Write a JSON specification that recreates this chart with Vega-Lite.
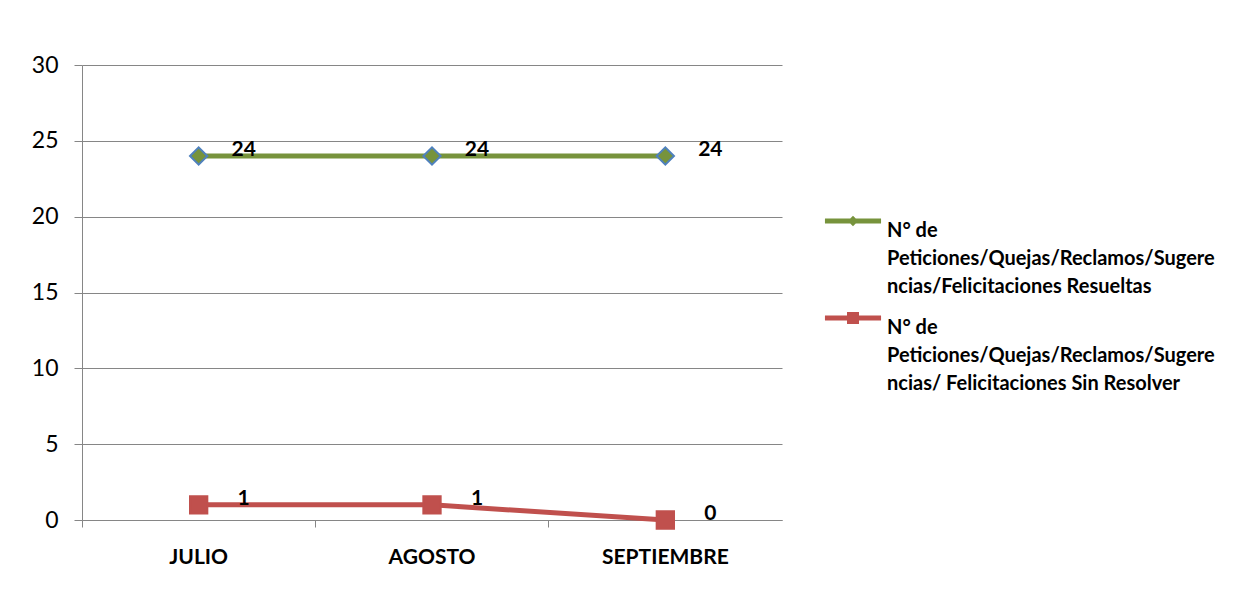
{
  "$schema": "https://vega.github.io/schema/vega-lite/v6.json",
  "width": 700,
  "height": 455,
  "autosize": {"type": "none"},
  "padding": {"left": 82, "top": 65, "right": 456, "bottom": 71},
  "background": "white",
  "config": {"view": {"stroke": null}, "font": "Lato"},
  "data": {
    "values": [
      {"mes": "JULIO", "serie": "N° de Peticiones/Quejas/Reclamos/Sugerencias/Felicitaciones Resueltas", "valor": 24},
      {"mes": "AGOSTO", "serie": "N° de Peticiones/Quejas/Reclamos/Sugerencias/Felicitaciones Resueltas", "valor": 24},
      {"mes": "SEPTIEMBRE", "serie": "N° de Peticiones/Quejas/Reclamos/Sugerencias/Felicitaciones Resueltas", "valor": 24},
      {"mes": "JULIO", "serie": "N° de Peticiones/Quejas/Reclamos/Sugerencias/ Felicitaciones  Sin Resolver", "valor": 1},
      {"mes": "AGOSTO", "serie": "N° de Peticiones/Quejas/Reclamos/Sugerencias/ Felicitaciones  Sin Resolver", "valor": 1},
      {"mes": "SEPTIEMBRE", "serie": "N° de Peticiones/Quejas/Reclamos/Sugerencias/ Felicitaciones  Sin Resolver", "valor": 0}
    ]
  },
  "encoding": {
    "x": {
      "field": "mes", "type": "nominal", "sort": ["JULIO", "AGOSTO", "SEPTIEMBRE"],
      "scale": {"type": "band", "paddingInner": 0, "paddingOuter": 0},
      "axis": {
        "title": null, "bandPosition": 0, "labelAngle": 0,
        "tickSize": 7, "tickColor": "#868686", "domainColor": "#868686",
        "labelFont": "Lato", "labelFontWeight": "bold", "labelFontSize": 21, "labelColor": "black",
        "labelPadding": 19, "grid": false
      }
    },
    "y": {
      "field": "valor", "type": "quantitative",
      "scale": {"domain": [0, 30], "nice": false},
      "axis": {
        "title": null, "values": [0, 5, 10, 15, 20, 25, 30],
        "tickSize": 8, "labelPadding": 16, "labelFont": "Lato", "labelFontSize": 23, "labelColor": "black",
        "gridColor": "#868686", "domainColor": "#868686", "tickColor": "#868686"
      }
    }
  },
  "layer": [
    {
      "mark": {"type": "line", "strokeWidth": 5},
      "encoding": {
        "color": {
          "field": "serie", "type": "nominal",
          "scale": {
            "domain": ["N° de Peticiones/Quejas/Reclamos/Sugerencias/Felicitaciones Resueltas", "N° de Peticiones/Quejas/Reclamos/Sugerencias/ Felicitaciones  Sin Resolver"],
            "range": ["#77933C", "#C0504D"]
          },
          "legend": {
            "orient": "none", "legendX": 756, "legendY": 141, "title": null,
            "labelFont": "Lato", "labelFontSize": 20, "labelFontWeight": "bold", "labelColor": "black",
            "labelLimit": 500, "rowPadding": 6, "symbolSize": 900, "labelOffset": 19, "labelBaseline": "top",
            "labelExpr": "datum.label == 'N° de Peticiones/Quejas/Reclamos/Sugerencias/Felicitaciones Resueltas' ? ['N° de','Peticiones/Quejas/Reclamos/Sugere','ncias/Felicitaciones Resueltas'] : ['N° de','Peticiones/Quejas/Reclamos/Sugere','ncias/ Felicitaciones  Sin Resolver']",
            "encode": {
              "symbols": {
                "update": {
                  "shape": {"signal": "datum.value == 'N° de Peticiones/Quejas/Reclamos/Sugerencias/Felicitaciones Resueltas' ? 'M-1.87,-0.17H1.87V0.17H-1.87Z M0,-0.35L0.35,0L0,0.35L-0.35,0Z' : 'M-1.87,-0.17H1.87V0.17H-1.87Z M-0.4,-0.4H0.4V0.4H-0.4Z'"},
                  "fill": {"scale": "color", "field": "value"},
                  "strokeWidth": {"value": 0}
                }
              },
              "labels": {"update": {"lineHeight": {"value": 28}}}
            }
          }
        }
      }
    },
    {
      "transform": [{"filter": "datum.serie == 'N° de Peticiones/Quejas/Reclamos/Sugerencias/Felicitaciones Resueltas'"}],
      "mark": {"type": "point", "filled": true, "shape": "diamond", "size": 300, "fill": "#77933C", "stroke": "#4F81BD", "strokeWidth": 2, "opacity": 1}
    },
    {
      "transform": [{"filter": "datum.serie != 'N° de Peticiones/Quejas/Reclamos/Sugerencias/Felicitaciones Resueltas'"}],
      "mark": {"type": "point", "filled": true, "shape": "square", "size": 300, "fill": "#C0504D", "stroke": "#C0504D", "strokeWidth": 2, "opacity": 1}
    },
    {
      "mark": {"type": "text", "dx": 45, "dy": -6, "fontSize": 21, "fontWeight": "bold", "font": "Lato", "color": "black"},
      "encoding": {"text": {"field": "valor", "type": "quantitative"}}
    }
  ]
}
